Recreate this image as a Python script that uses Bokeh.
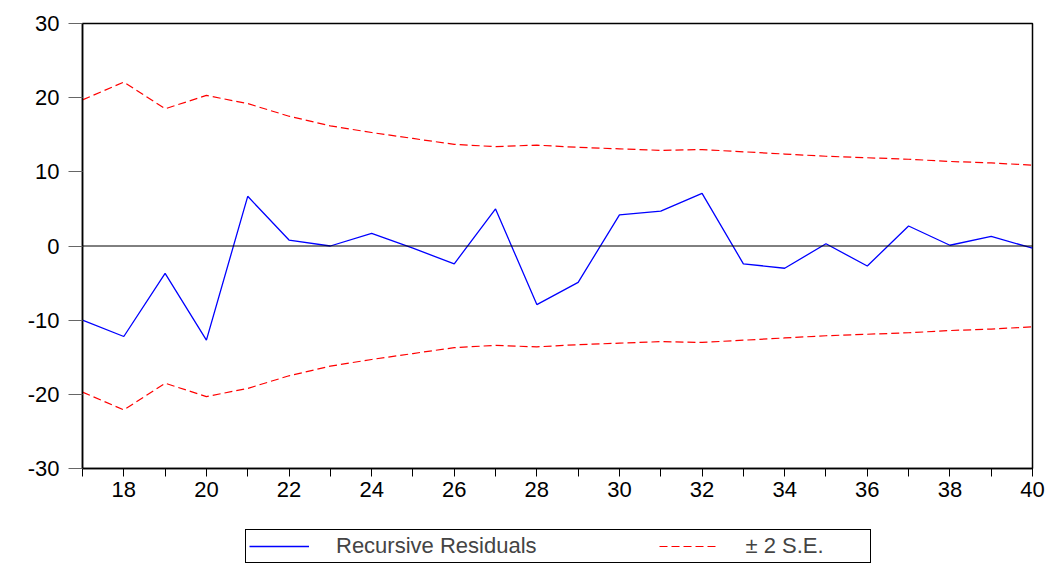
from bokeh.plotting import figure
from bokeh.models import FixedTicker, Span, Legend, LegendItem, Range1d
from bokeh.layouts import column
from bokeh.embed import file_html
from bokeh.resources import INLINE

obs = list(range(17, 41))
resid = [-10.0, -12.2, -3.7, -12.7, 6.7, 0.8, 0.0, 1.7, -0.3, -2.4, 5.0, -7.9,
         -4.9, 4.2, 4.7, 7.1, -2.4, -3.0, 0.3, -2.7, 2.7, 0.1, 1.3, -0.3]
se_upper = [19.7, 22.1, 18.5, 20.3, 19.2, 17.5, 16.2, 15.3, 14.5, 13.7, 13.4, 13.6,
            13.3, 13.1, 12.9, 13.0, 12.7, 12.4, 12.1, 11.9, 11.7, 11.4, 11.2, 10.9]
se_lower = [-v for v in se_upper]
x_major = [18, 20, 22, 24, 26, 28, 30, 32, 34, 36, 38, 40]
x_minor = [17, 19, 21, 23, 25, 27, 29, 31, 33, 35, 37, 39]
y_ticks = [-30, -20, -10, 0, 10, 20, 30]

FONT = "Liberation Sans"
FS = "22px"

p = figure(width=1054, height=505, output_backend="svg", toolbar_location=None,
           x_range=Range1d(17, 40), y_range=Range1d(-30, 30),
           min_border_left=82, min_border_right=22, min_border_top=23,
           min_border_bottom=37)
p.xgrid.visible = False
p.ygrid.visible = False
p.outline_line_color = "black"
p.outline_line_width = 1.5

p.xaxis.ticker = FixedTicker(ticks=x_major, minor_ticks=x_minor)
p.yaxis.ticker = FixedTicker(ticks=y_ticks, minor_ticks=[])
p.yaxis.major_label_overrides = {t: str(t) for t in y_ticks}
for ax in (p.xaxis, p.yaxis):
    ax.axis_line_color = "black"
    ax.axis_line_width = 1.5
    ax.major_label_text_font = FONT
    ax.major_label_text_font_size = FS
    ax.major_label_text_color = "black"
    ax.major_tick_in = 0
    ax.minor_tick_in = 0
p.xaxis.major_tick_out = 8
p.xaxis.minor_tick_out = 8
p.xaxis.major_tick_line_color = "black"
p.xaxis.minor_tick_line_color = "black"
p.xaxis.major_label_standoff = 5
p.yaxis.major_tick_out = 14
p.yaxis.major_tick_line_color = "#666666"
p.yaxis.major_label_standoff = 9

p.add_layout(Span(location=0, dimension="width", line_color="black", line_width=1))

p.line(obs, se_upper, line_color="#FF0000", line_width=1.2, line_dash="8 4")
p.line(obs, se_lower, line_color="#FF0000", line_width=1.2, line_dash="8 4")
p.line(obs, resid, line_color="#0000FF", line_width=1.3)

# legend strip below the chart (key lines lie outside the visible range)
q = figure(width=1054, height=58, output_backend="svg", toolbar_location=None,
           x_range=Range1d(0, 1), y_range=Range1d(0, 1),
           x_axis_type=None, y_axis_type=None,
           min_border_left=0, min_border_right=0, min_border_top=0,
           min_border_bottom=0)
q.outline_line_color = None
q.xgrid.visible = False
q.ygrid.visible = False
k_res = q.line([-10, -9], [-10, -10], line_color="#0000FF", line_width=1.3)
k_se = q.line([-10, -9], [-10, -10], line_color="#FF0000", line_width=1.2,
              line_dash="8 4")

legend = Legend(items=[LegendItem(label="Recursive Residuals", renderers=[k_res]),
                       LegendItem(label="± 2 S.E.", renderers=[k_se])],
                orientation="horizontal", location=(163, 0),
                glyph_width=60, label_standoff=27, spacing=122, label_width=121,
                padding=3, margin=0,
                label_text_font=FONT, label_text_font_size=FS,
                border_line_color="black", border_line_width=1,
                border_line_alpha=1.0,
                background_fill_alpha=1.0)
q.add_layout(legend, "center")

open("out.html", "w").write(file_html(column(p, q, spacing=0), INLINE))
